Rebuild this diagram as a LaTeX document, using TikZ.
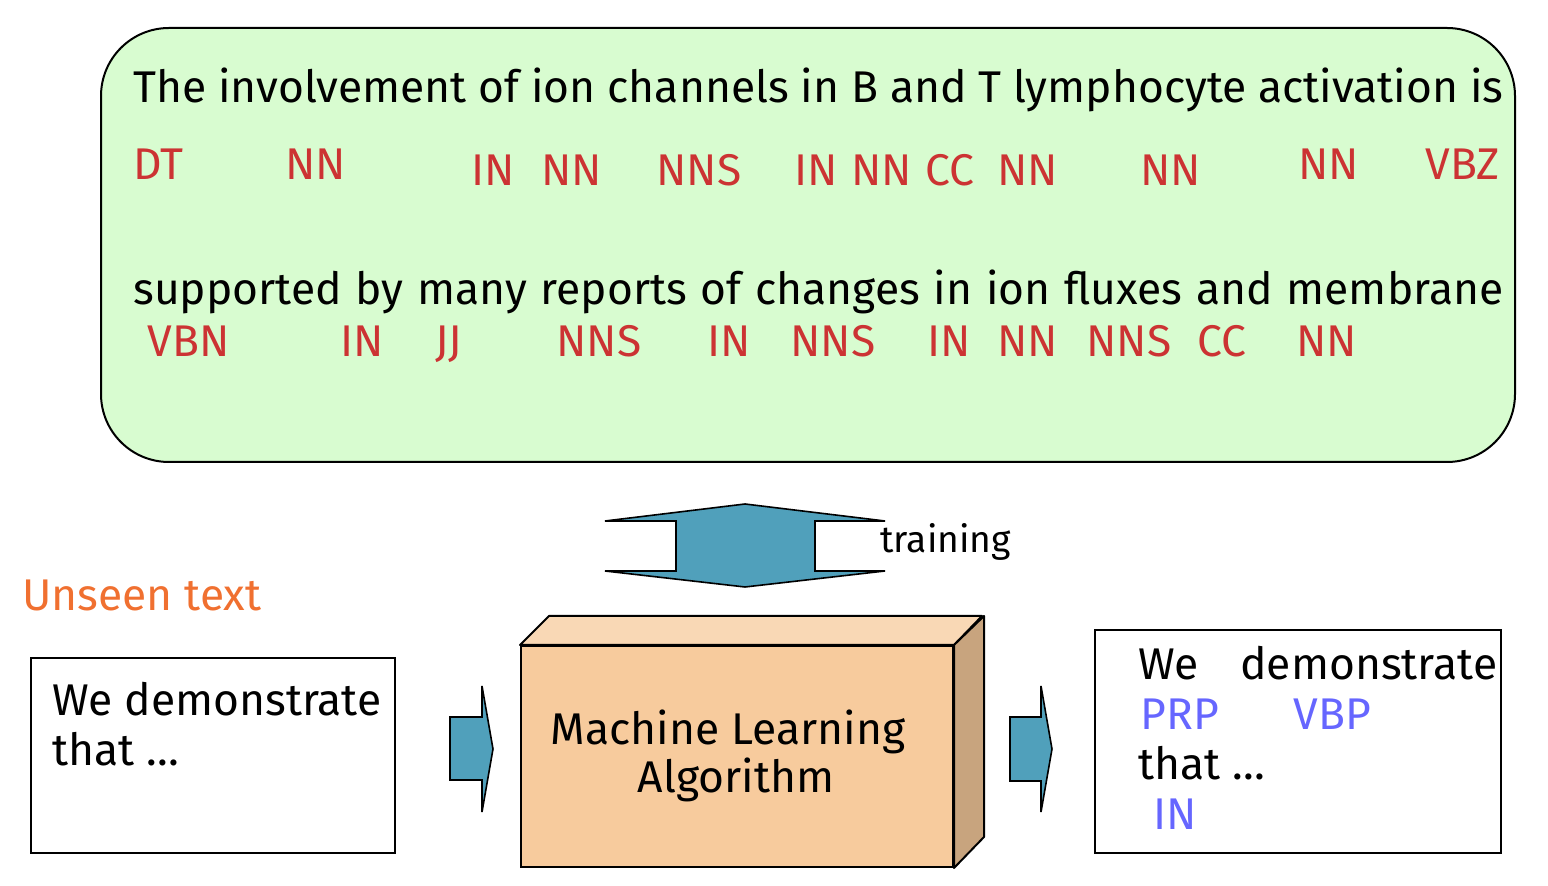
\documentclass[tikz,border=0pt]{standalone}
\usepackage{fontspec}
\setmainfont{Fira Sans}
\usepackage{xcolor}
\usepackage{tikz}
\usetikzlibrary{positioning}

\definecolor{boxgreen}{RGB}{216,252,208}
\definecolor{tagred}{RGB}{204,51,51}
\definecolor{tagblue}{RGB}{102,102,255}
\definecolor{unseenorange}{RGB}{240,112,48}
\definecolor{arrowblue}{RGB}{80,160,187}
\definecolor{cubefront}{RGB}{247,203,157}
\definecolor{cubetop}{RGB}{249,216,181}
\definecolor{cubeside}{RGB}{200,164,126}

\tikzset{
  txt/.style={anchor=base west, inner sep=0, font=\fontsize{22.2}{26}\selectfont},
  tagr/.style={txt, text=tagred},
  tagb/.style={txt, text=tagblue},
  blockarr/.style={fill=arrowblue, draw=black, line width=0.8pt, line join=miter},
  plainbox/.style={draw, line width=1pt, rectangle, inner sep=0}
}

\begin{document}
\begin{tikzpicture}[x=0.5pt, y=-0.5pt]
	\useasboundingbox (0,0) rectangle (1548,886);
	% training corpus
	\node[plainbox, fill=boxgreen, rounded corners=34pt, minimum width=707pt, minimum height=217pt] (corpus) at (808,245) {};
	\node[txt] (line1) at (133,103) {\makebox[685pt][s]{The involvement of ion channels in B and T lymphocyte activation is}};
	\node[txt] (line2) at (133,305) {\makebox[685pt][s]{supported by many reports of changes in ion fluxes and membrane}};
	\foreach \tg/\x/\y [count=\i] in {DT/133/180, NN/285/180, IN/471/186, NN/541/186, NNS/656/186, IN/794/186, NN/851/186, CC/925/186, NN/997/186, NN/1140/186, NN/1298/180, VBZ/1425/180}
		\node[tagr] (tagA\i) at (\x,\y) {\tg};
	\foreach \tg/\x [count=\i] in {VBN/147, IN/340, JJ/435, NNS/556, IN/707, NNS/790, IN/927, NN/997, NNS/1086, CC/1197, NN/1296}
		\node[tagr] (tagB\i) at (\x,357) {\tg};

	% training arrow
	\draw[blockarr] (745,504) -- (885,521) -- (815,521) -- (815,571) -- (885,571) -- (745,587) -- (605,571) -- (676,571) -- (676,521) -- (605,521) -- cycle;
	\node[txt, font=\fontsize{18.6}{22}\selectfont] (training) at (880,553) {training};

	% input
	\node[txt, text=unseenorange] (unseen) at (22,611) {Unseen text};
	\node[plainbox, minimum width=182pt, minimum height=97.5pt] (inbox) at (213,755.5) {};
	\node[txt] (in1) at (52,716) {We demonstrate};
	\node[txt] (in2) at (52,766) {that …};

	% learner
	\node[plainbox, fill=cubefront, minimum width=216pt, minimum height=110.5pt] (mla) at (737,756.5) {};
	\draw[fill=cubetop, line width=1pt, line join=round] (mla.north west) -- ++(29,-29) -- ++(433,0) -- (mla.north east) -- cycle;
	\draw[fill=cubeside, line width=1pt, line join=round] (mla.north east) -- ++(30,-29) -- ++(0,221) -- (mla.south east) -- cycle;
	\node[txt, anchor=base] (ml1) at (728,745) {Machine Learning};
	\node[txt, anchor=base] (ml2) at (736,793) {Algorithm};

	\draw[blockarr] (450,717) -- (482,717) -- (482,686) -- (493,749) -- (482,812) -- (482,780) -- (450,780) -- cycle;
	\draw[blockarr] (1010,717) -- (1041,717) -- (1041,686) -- (1052,749) -- (1041,812) -- (1041,781) -- (1010,781) -- cycle;

	% output
	\node[plainbox, minimum width=203pt, minimum height=111.5pt] (outbox) at (1298,741.5) {};
	\node[txt] (out1) at (1138,680) {We};
	\node[txt] (out2) at (1240,680) {demonstrate};
	\node[tagb] (out3) at (1140,730) {PRP};
	\node[tagb] (out4) at (1293,730) {VBP};
	\node[txt] (out5) at (1138,780) {that …};
	\node[tagb] (out6) at (1153,830) {IN};
\end{tikzpicture}
\end{document}
